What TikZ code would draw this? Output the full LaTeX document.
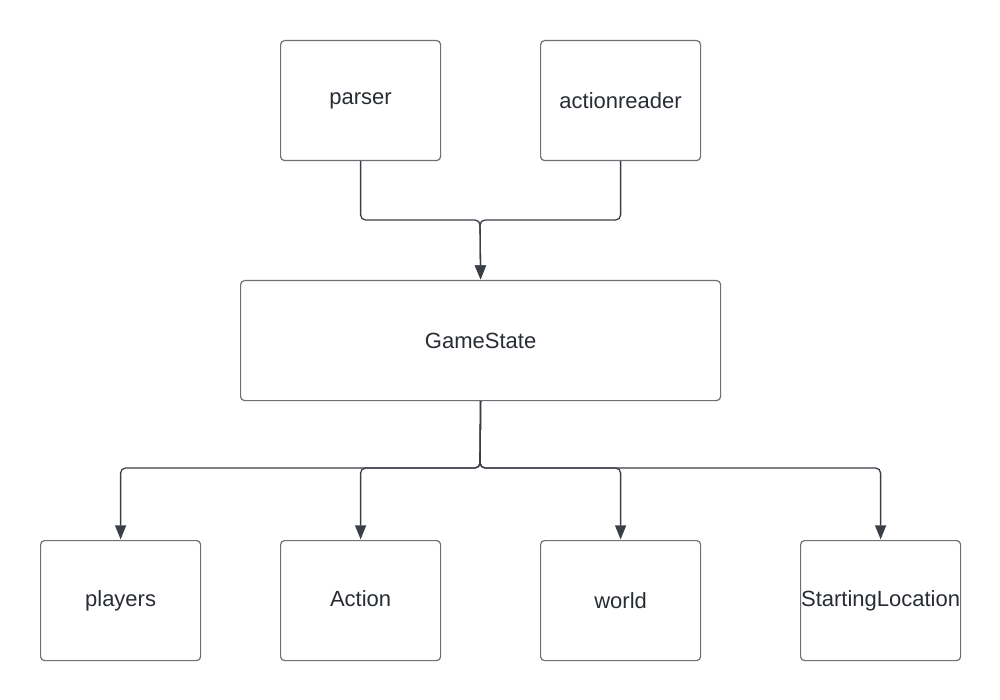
\documentclass[tikz,border=0pt]{standalone}
\usepackage{fontspec}
\setmainfont{Liberation Sans}
\usetikzlibrary{arrows.meta}
\definecolor{boxgray}{HTML}{6E7077}
\definecolor{lineclr}{HTML}{3A3F47}
\definecolor{txt}{HTML}{282C33}
\begin{document}
\begin{tikzpicture}[x=1pt,y=-1pt,
  box/.style={draw=boxgray, line width=1.2pt, rounded corners=4pt, minimum width=160pt, minimum height=120pt, inner sep=0pt, font=\fontsize{22}{26}\selectfont, text=txt, anchor=north west},
  conn/.style={draw=lineclr, line width=1.3pt, rounded corners=5pt},
  arr/.style={conn, -{Triangle[length=14pt,width=11pt]}, shorten >=0.6pt}]
\useasboundingbox (0,0) rectangle (1000,700);
\node[box] (parser) at (280,40) {parser};
\node[box] (ar) at (540,40) {actionreader};
\node[box, minimum width=480pt] (gs) at (240,280) {GameState};
\node[box] (players) at (40,540) {players};
\node[box, text depth=4pt] (action) at (280,540) {Action};
\node[box] (world) at (540,540) {world};
\node[box] (start) at (800,540) {StartingLocation};
\coordinate (j1) at (480,220);
\coordinate (j2) at (480,468);
\draw[arr] (parser.south) |- (j1) -- (gs.north);
\draw[arr] (ar.south) |- (j1) -- (gs.north);
\draw[arr] (gs.south) -- (j2) -| (players.north);
\draw[arr] (gs.south) -- (j2) -| (action.north);
\draw[arr] (gs.south) -- (j2) -| (world.north);
\draw[arr] (gs.south) -- (j2) -| (start.north);
\end{tikzpicture}
\end{document}
